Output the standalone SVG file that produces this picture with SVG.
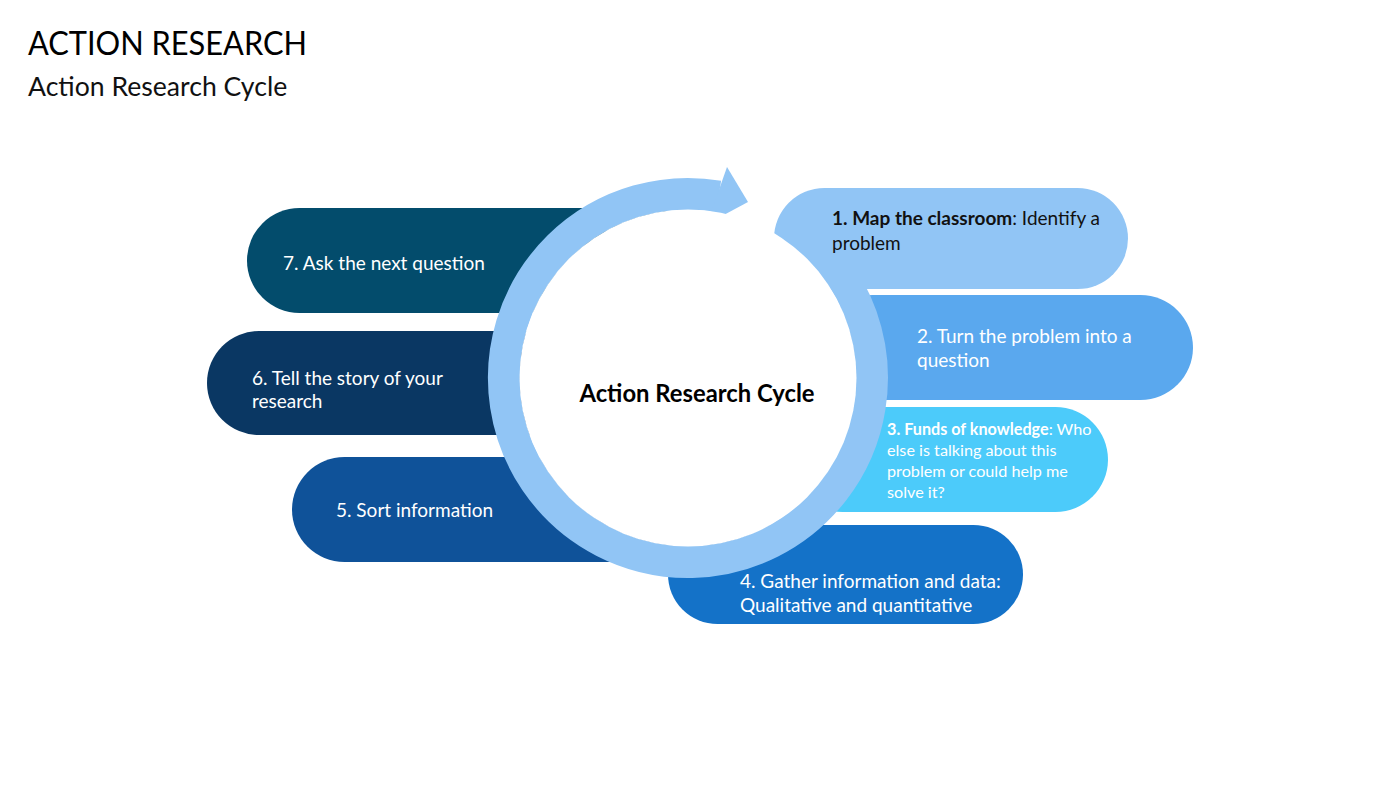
<svg xmlns="http://www.w3.org/2000/svg" width="1400" height="788" viewBox="0 0 1400 788">
<style>
  .t { font-family: Lato, "Open Sans", "Liberation Sans", sans-serif; }
  .lbl { font-size: 19px; fill: #FFFFFF; }
  .lbl3 { font-size: 16.2px; fill: #FFFFFF; }
  .b { font-weight: bold; }
</style>
<rect width="1400" height="788" fill="#FFFFFF"/>
<text class="t" x="28" y="55" font-size="33" fill="#000" textLength="279" lengthAdjust="spacingAndGlyphs">ACTION RESEARCH</text>
<text class="t" x="28" y="96" font-size="26.6" fill="#111">Action Research Cycle</text>

<g id="node7">
  <rect x="247" y="208" width="460" height="105" rx="52.5" fill="#034C6C"/>
  <text class="t lbl" x="283" y="270">7. Ask the next question</text>
</g>
<g id="node6">
  <rect x="207" y="331" width="480" height="104" rx="52" fill="#0A3763"/>
  <text class="t lbl" x="252" y="385">6. Tell the story of your</text>
  <text class="t lbl" x="252" y="408">research</text>
</g>
<g id="node5">
  <rect x="292" y="457" width="420" height="105" rx="52.5" fill="#0F5299"/>
  <text class="t lbl" x="336" y="517">5. Sort information</text>
</g>
<g id="node4">
  <rect x="668" y="525" width="355" height="99" rx="49.5" fill="#1472C8"/>
  <text class="t lbl" x="740" y="588">4. Gather information and data:</text>
  <text class="t lbl" x="740" y="612">Qualitative and quantitative</text>
</g>
<g id="node3">
  <rect x="790" y="407" width="318" height="105" rx="52.5" fill="#4CCBFA"/>
  <text class="t lbl3" x="887" y="435"><tspan class="b">3. Funds of knowledge</tspan>: Who</text>
  <text class="t lbl3" x="887" y="456">else is talking about this</text>
  <text class="t lbl3" x="887" y="477">problem or could help me</text>
  <text class="t lbl3" x="887" y="498">solve it?</text>
</g>
<g id="node2">
  <rect x="820" y="295" width="373" height="105" rx="52.5" fill="#5AA8EE"/>
  <text class="t lbl" x="917" y="343">2. Turn the problem into a</text>
  <text class="t lbl" x="917" y="367">question</text>
</g>

<g id="connectors">
  <path d="M 818.1 247.9 A 184 184 0 1 1 718.5 196.5" fill="none" stroke="#91C5F5" stroke-width="32"/>
  <polygon points="727,167 748,202 707,224" fill="#91C5F5"/>
</g>

<g id="node1">
  <rect x="774" y="188" width="354" height="101" rx="50.5" fill="#91C5F5"/>
  <text class="t" x="832" y="225" font-size="19" fill="#111"><tspan class="b">1. Map the classroom</tspan>: Identify a</text>
  <text class="t" x="832" y="250" font-size="19" fill="#111">problem</text>
</g>

<g id="center">
  <circle cx="688" cy="378" r="168.5" fill="#FFFFFF"/>
  <text class="t b" x="697" y="402" font-size="23.8" fill="#000" text-anchor="middle">Action Research Cycle</text>
</g>
</svg>
